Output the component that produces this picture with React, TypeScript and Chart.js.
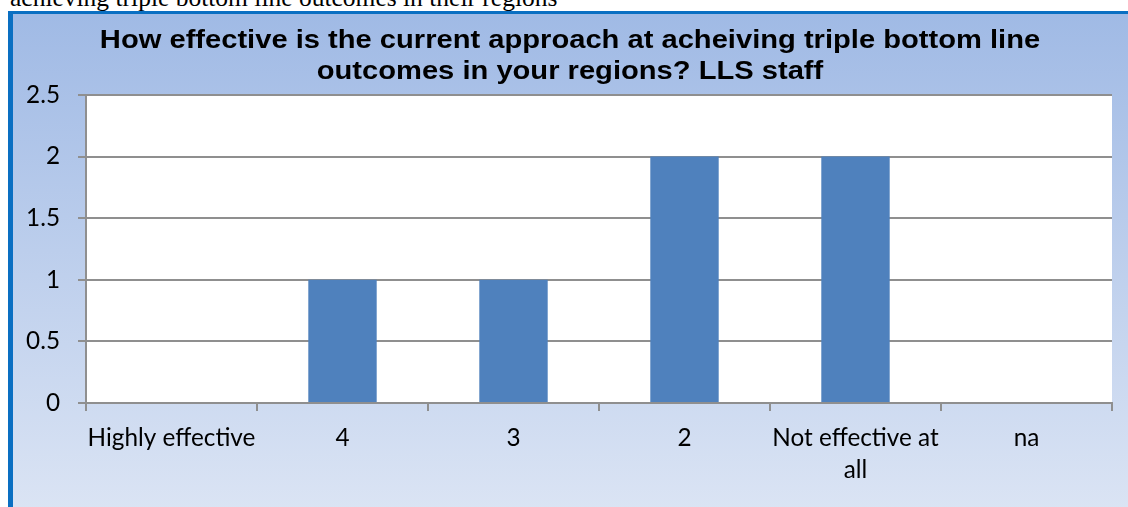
import React, { useEffect, useRef } from "react";
import { Chart, registerables } from "chart.js";

Chart.register(...registerables);

const categories: (string | string[])[] = ["Highly effective", "4", "3", "2", ["Not effective at", "all"], "na"];
const values = [0, 1, 1, 2, 2, 0];
const yTickLabels = ["0", "0.5", "1", "1.5", "2", "2.5"];
const titleLines = [
  "How effective is the current approach at acheiving triple bottom line",
  "outcomes in your regions? LLS staff",
];
const pageText = "achieving triple bottom line outcomes in their regions";

const plotBg = {
  id: "plotBg",
  beforeDraw(chart: any) {
    const { ctx, chartArea } = chart;
    ctx.save();
    ctx.fillStyle = "#ffffff";
    ctx.fillRect(chartArea.left, chartArea.top, chartArea.right - chartArea.left, chartArea.bottom - chartArea.top);
    ctx.restore();
  },
};

const stretchedTitle = {
  id: "stretchedTitle",
  afterDraw(chart: any) {
    const { ctx } = chart;
    const baselines = [48, 79];
    ctx.save();
    ctx.font = 'bold 25px "Liberation Sans", Arial, sans-serif';
    ctx.fillStyle = "#000000";
    ctx.textAlign = "center";
    ctx.textBaseline = "alphabetic";
    titleLines.forEach((line, i) => {
      ctx.save();
      ctx.translate(570, baselines[i]);
      ctx.scale(1.165, 1);
      ctx.fillText(line, 0, 0);
      ctx.restore();
    });
    ctx.restore();
  },
};

export default function App() {
  const canvasRef = useRef<HTMLCanvasElement | null>(null);

  useEffect(() => {
    if (!canvasRef.current) return;
    const axisFont = { family: "Lato, 'Open Sans', sans-serif", size: 24.3, lineHeight: 1.317 };
    const grey = "#8f8f8f";
    const chart = new Chart(canvasRef.current, {
      type: "bar",
      data: {
        labels: categories,
        datasets: [
          {
            data: values,
            backgroundColor: "#4f81bd",
            borderWidth: 0,
            categoryPercentage: 1,
            barPercentage: 0.4,
          },
        ],
      },
      options: {
        animation: false,
        responsive: true,
        maintainAspectRatio: false,
        layout: { padding: { left: 0, right: 16, top: 95, bottom: 0 } },
        plugins: {
          legend: { display: false },
          title: { display: false },
          tooltip: { enabled: false },
        },
        scales: {
          x: {
            offset: true,
            afterFit: (scale: any) => {
              scale.height = 104;
            },
            grid: {
              display: true,
              offset: true,
              drawOnChartArea: false,
              drawTicks: true,
              tickLength: 8,
              color: grey,
              lineWidth: 2,
            },
            border: { display: true, color: grey, width: 2 },
            ticks: {
              color: "#000000",
              font: axisFont,
              padding: 11,
              maxRotation: 0,
              autoSkip: false,
            },
          },
          y: {
            min: 0,
            max: 2.5,
            afterFit: (scale: any) => {
              scale.width = 86;
            },
            grid: {
              display: true,
              drawOnChartArea: true,
              drawTicks: true,
              tickLength: 8,
              color: grey,
              lineWidth: 2,
            },
            border: { display: true, color: grey, width: 2 },
            ticks: {
              stepSize: 0.5,
              color: "#000000",
              font: axisFont,
              padding: 18,
              callback: (_v: any, i: number) => yTickLabels[i],
            },
          },
        },
      },
      plugins: [plotBg, stretchedTitle],
    });
    return () => chart.destroy();
  }, []);

  return (
    <div
      style={{
        position: "fixed",
        left: 0,
        top: 0,
        width: 1128,
        height: 507,
        overflow: "hidden",
        background: "#ffffff",
      }}
    >
      <div
        style={{
          position: "absolute",
          left: 10,
          top: -15,
          fontFamily: '"Liberation Serif", "Times New Roman", serif',
          fontSize: 25.5,
          lineHeight: "26px",
          whiteSpace: "nowrap",
          color: "#000000",
        }}
      >
        {pageText}
      </div>
      <div
        style={{
          position: "absolute",
          left: 8,
          top: 11,
          right: -20,
          bottom: -40,
          borderLeft: "5px solid #0a6fc2",
          borderTop: "3px solid #0a6fc2",
          background: "linear-gradient(to bottom, #a0bae5 0%, #dfe7f5 100%)",
        }}
      />
      <div style={{ position: "absolute", left: 0, top: 0, width: 1128, height: 507 }}>
        <canvas ref={canvasRef} />
      </div>
    </div>
  );
}
